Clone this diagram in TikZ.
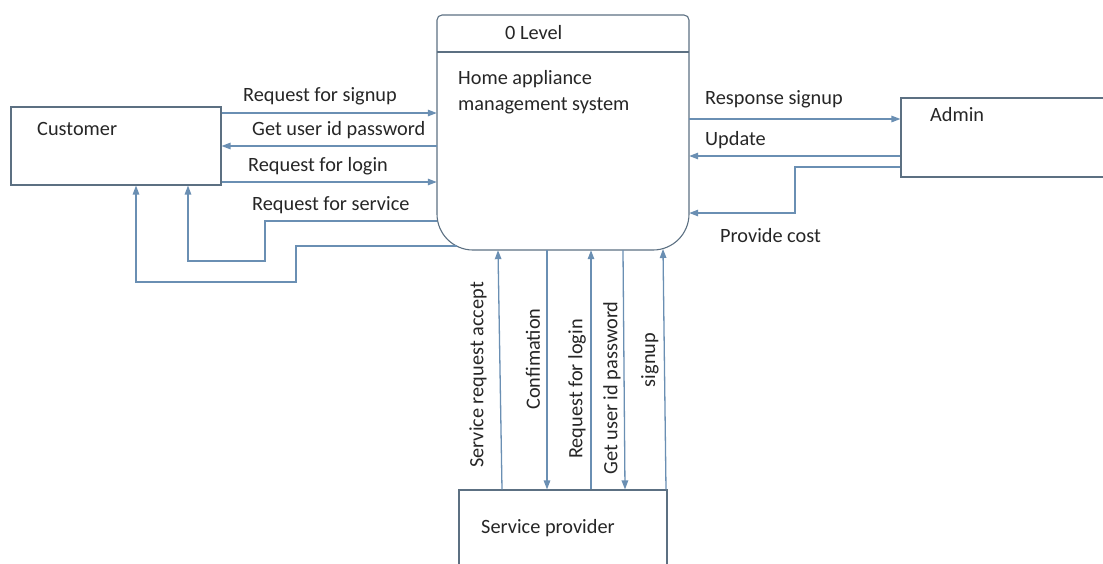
\documentclass[tikz,border=0pt]{standalone}
\usepackage{fontspec}
\setmainfont{Carlito}
\usetikzlibrary{arrows.meta}
\definecolor{flowblue}{HTML}{6A8FB3}
\definecolor{boxgray}{HTML}{5C7082}
\begin{document}
\begin{tikzpicture}[x=1pt,y=-1pt,line cap=butt,line join=miter,>={Triangle[length=9pt,width=6.5pt]},
	font=\fontsize{20.3}{24}\selectfont]
		\tikzset{ent/.style={draw=boxgray,line width=1.1pt,inner sep=0pt},
			lbl/.style={inner sep=0pt,text=black!85,anchor=west},
			vlbl/.style={inner sep=0pt,text=black!85,rotate=90},
			flow/.style={draw=flowblue,line width=1.3pt,->}}
		\useasboundingbox (0,0) rectangle (1103,563);
		%--------- Thực thể
		\node[ent,minimum width=210,minimum height=78] (cust) at (116,146) {};
		\node[ent,minimum width=209,minimum height=79] (adm) at (1005.5,137.5) {};
		\node[ent,minimum width=208,minimum height=85] (sp) at (563,532.5) {};
		\node[inner sep=0pt,minimum width=252,minimum height=235] (proc) at (563,132.5) {};
		\draw[boxgray,line width=1.1pt] (563,15) [rounded corners=5] -- (689,15) -- (689,130)
			[rounded corners=36] -- (689,250) -- (437,250) -- (437,130)
			[rounded corners=5] -- (437,15) -- cycle;
		\draw[boxgray,line width=1.1pt] (proc.west |- 0,52) -- (proc.east |- 0,52);
		\node[lbl] (custt) at (37,129) {Customer};
		\node[lbl] (admt) at (930,115) {Admin};
		\node[lbl] (spt) at (481,528) {Service provider};
		\node[lbl] (lvl) at (505,33) {0 Level};
		\node[lbl,align=left,font=\fontsize{20.3}{26}\selectfont] (proct) at (458,92) {Home appliance\\management system};
		%--------- Khách hàng
		\draw[flow] (cust.east |- 0,113) -- (proc.west |- 0,113);
		\draw[flow] (proc.west |- 0,146) -- (cust.east |- 0,146);
		\draw[flow] (cust.east |- 0,182) -- (proc.west |- 0,182);
		\draw[flow] (proc.west |- 0,221) -| (265,261) -| (cust.south -| 188,0);
		\coordinate (bl) at (457,246);
		\draw[flow] (bl) -| (296,282) -| (cust.south -| 136,0);
		\node[lbl] (a1) at (243,96) {Request for signup};
		\node[lbl] (a2) at (252,130) {Get user id password};
		\node[lbl] (a3) at (248,166) {Request for login};
		\node[lbl] (a4) at (252,205) {Request for service};
		%--------- Quản trị
		\draw[flow] (proc.east |- 0,119) -- (adm.west |- 0,119);
		\draw[flow] (adm.west |- 0,156) -- (proc.east |- 0,156);
		\draw[flow] (adm.west |- 0,167) -| (795,213) -- (proc.east |- 0,213);
		\node[lbl] (b1) at (705,99) {Response signup};
		\node[lbl] (b2) at (705,140) {Update};
		\node[lbl] (b3) at (720,236) {Provide cost};
		%--------- Nhà cung cấp
		\coordinate (su) at (663,249);
		\draw[flow] (sp.north -| 502,0) -- (proc.south -| 498,0);
		\draw[flow] (proc.south -| 547,0) -- (sp.north -| 547,0);
		\draw[flow] (sp.north -| 591,0) -- (proc.south -| 591,0);
		\draw[flow] (proc.south -| 623,0) -- (sp.north -| 625,0);
		\draw[flow] (sp.north -| 666,0) -- (su);
		\node[vlbl] (c1) at (478,375) {Service request accept};
		\node[vlbl] (c2) at (533,359) {Confimation};
		\node[vlbl] (c3) at (577,389) {Request for login};
		\node[vlbl] (c4) at (612,388) {Get user id password};
		\node[vlbl] (c5) at (650,360) {signup};
\end{tikzpicture}
\end{document}
